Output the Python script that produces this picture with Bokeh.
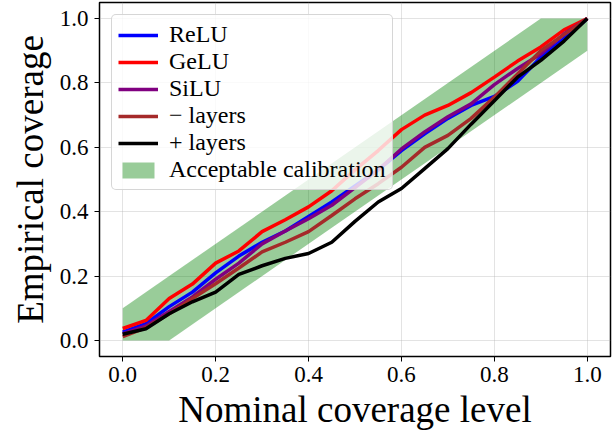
from bokeh.plotting import figure
from bokeh.models import Range1d, FixedTicker, PrintfTickFormatter, Legend, LegendItem
from bokeh.embed import file_html
from bokeh.resources import INLINE

# ---- data ----
nominal = [0.0, 0.05, 0.1, 0.15, 0.2, 0.25, 0.3, 0.35, 0.4, 0.45, 0.5,
           0.55, 0.6, 0.65, 0.7, 0.75, 0.8, 0.85, 0.9, 0.95, 1.0]
relu = [0.026, 0.052, 0.105, 0.15, 0.21, 0.262, 0.305, 0.34, 0.385, 0.43, 0.48,
        0.53, 0.59, 0.642, 0.69, 0.73, 0.758, 0.805, 0.88, 0.938, 1.0]
gelu = [0.037, 0.062, 0.13, 0.175, 0.24, 0.278, 0.338, 0.375, 0.415, 0.465, 0.53,
        0.59, 0.655, 0.70, 0.73, 0.77, 0.818, 0.868, 0.912, 0.965, 1.0]
silu = [0.02, 0.045, 0.09, 0.135, 0.19, 0.24, 0.30, 0.34, 0.378, 0.42, 0.475,
        0.53, 0.595, 0.648, 0.695, 0.735, 0.795, 0.845, 0.89, 0.952, 1.0]
minus_layers = [0.012, 0.04, 0.083, 0.13, 0.176, 0.225, 0.275, 0.305, 0.338, 0.388, 0.44,
                0.487, 0.538, 0.60, 0.637, 0.69, 0.756, 0.828, 0.90, 0.95, 1.0]
plus_layers = [0.019, 0.036, 0.083, 0.12, 0.15, 0.205, 0.232, 0.255, 0.27, 0.305, 0.37,
               0.43, 0.472, 0.534, 0.596, 0.672, 0.745, 0.818, 0.87, 0.93, 1.0]
band_x = [0.0, 0.1, 0.9, 1.0]
tolerance = 0.1
band_lo = [max(x - tolerance, 0.0) for x in band_x]
band_hi = [min(x + tolerance, 1.0) for x in band_x]
ticks = [0.0, 0.2, 0.4, 0.6, 0.8, 1.0]

FONT = "Liberation Serif"

p = figure(width=616, height=434, output_backend="svg", toolbar_location=None,
           x_range=Range1d(-0.05, 1.05), y_range=Range1d(-0.05, 1.05),
           min_border_left=99, min_border_right=6, min_border_top=2, min_border_bottom=78)

p.outline_line_color = "black"
p.outline_line_width = 1.5
p.background_fill_color = "white"
p.border_fill_color = "white"

for ax in (p.xaxis[0], p.yaxis[0]):
    ax.ticker = FixedTicker(ticks=ticks)
    ax.formatter = PrintfTickFormatter(format="%.1f")
    ax.major_label_text_font = FONT
    ax.major_label_text_font_size = "23px"
    ax.major_label_text_color = "black"
    ax.axis_label_text_font = FONT
    ax.axis_label_text_font_size = "37px"
    ax.axis_label_text_font_style = "normal"
    ax.axis_label_text_color = "black"
    ax.axis_line_color = None
    ax.major_tick_in = 0
    ax.major_tick_out = 5
    ax.major_tick_line_color = "black"
    ax.minor_tick_line_color = None

p.xaxis.major_label_standoff = 5
p.yaxis.major_label_standoff = 6
p.xaxis.axis_label = "Nominal coverage level"
p.yaxis.axis_label = "Empirical coverage"
p.xaxis.axis_label_standoff = 4
p.yaxis.axis_label_standoff = 6

p.xgrid.ticker = FixedTicker(ticks=ticks)
p.ygrid.ticker = FixedTicker(ticks=ticks)
p.grid.grid_line_color = "#b0b0b0"
p.grid.grid_line_alpha = 0.35
p.grid.grid_line_width = 1

band = p.varea(x=band_x, y1=band_lo, y2=band_hi, fill_color="green", fill_alpha=0.4)

lw = 3.5
r_relu = p.line(nominal, relu, line_color="blue", line_width=lw)
r_gelu = p.line(nominal, gelu, line_color="red", line_width=lw)
r_silu = p.line(nominal, silu, line_color="purple", line_width=lw)
r_minus = p.line(nominal, minus_layers, line_color="brown", line_width=lw)
r_plus = p.line(nominal, plus_layers, line_color="black", line_width=lw)

legend = Legend(items=[
    LegendItem(label="ReLU", renderers=[r_relu]),
    LegendItem(label="GeLU", renderers=[r_gelu]),
    LegendItem(label="SiLU", renderers=[r_silu]),
    LegendItem(label="\u2212 layers", renderers=[r_minus]),
    LegendItem(label="+ layers", renderers=[r_plus]),
    LegendItem(label="Acceptable calibration", renderers=[band]),
], location="top_left")
legend.margin = 12
legend.padding = 6
legend.spacing = 0
legend.label_text_font = FONT
legend.label_text_font_size = "24px"
legend.label_text_color = "black"
legend.label_height = 22
legend.glyph_height = 20
legend.glyph_width = 40
legend.label_standoff = 11
legend.background_fill_color = "white"
legend.background_fill_alpha = 0.8
legend.border_line_color = "#cccccc"
legend.border_line_alpha = 0.8
legend.border_line_width = 1
legend.border_radius = 5
p.add_layout(legend)

open("out.html", "w").write(file_html(p, INLINE))
